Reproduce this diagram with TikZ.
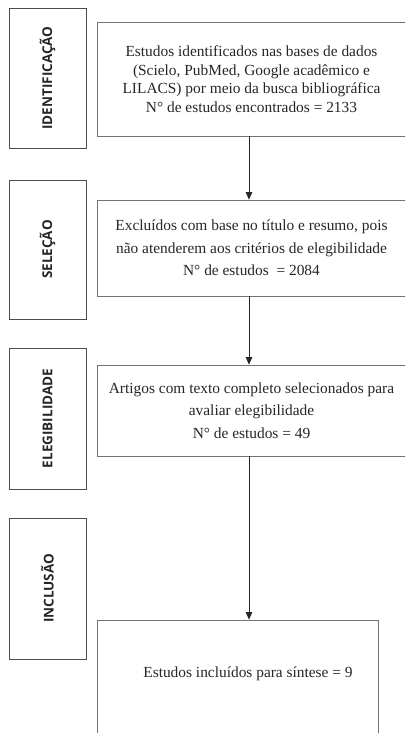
\documentclass[tikz,border=0pt]{standalone}
\usepackage{fontspec}
\setmainfont{Liberation Serif}
\newfontfamily\labelfont{Open Sans}
\usetikzlibrary{arrows.meta}

\begin{document}
\begin{tikzpicture}[x=1pt,y=-1pt,
    box/.style={draw=black!55,line width=0.8pt,inner sep=0pt,align=center,
        font=\fontsize{15.4}{18.5}\selectfont,text=black!85},
    wide/.style={font=\fontsize{15.4}{22.5}\selectfont},
    stage/.style={draw=black!70,line width=0.8pt,rotate=90,inner sep=0pt,
        minimum height=77pt,font=\labelfont\bfseries\fontsize{13.5}{15}\selectfont,text=black!85},
    flow/.style={-{Triangle[length=7.5pt,width=6.5pt]},line width=0.8pt,black!85}]
            \clip (0,0) rectangle (405,733);
            \fill[white] (0,0) rectangle (405,733);
            % stages on the left
            \node[stage,minimum width=140pt] (idt) at (47.5,78) {IDENTIFICAÇÃO};
            \node[stage,minimum width=139pt] (sel) at (47.5,249.5) {SELEÇÃO};
            \node[stage,minimum width=141pt] (ele) at (47.5,418.5) {ELEGIBILIDADE};
            \node[stage,minimum width=141pt] (inc) at (47.5,588.5) {INCLUSÃO};
            % boxes
            \node[box,minimum width=309pt,minimum height=114pt] (found) at (251.5,79)
                {Estudos identificados nas bases de dados\\(Scielo, PubMed, Google acadêmico e\\LILACS) por meio da busca bibliográfica\\N° de estudos encontrados = 2133};
            \node[box,wide,minimum width=309pt,minimum height=96pt] (excl) at (251.5,248)
                {Excluídos com base no título e resumo, pois\\não atenderem aos critérios de elegibilidade\\N° de estudos \ = 2084};
            \node[box,wide,minimum width=309pt,minimum height=91pt] (full) at (251.5,410.5)
                {Artigos com texto completo selecionados para\\avaliar elegibilidade\\N° de estudos = 49};
            \node[box,minimum width=281pt,minimum height=140pt] (synth) at (237.5,690) {};
            \node[box,draw=none] (synthtxt) at (248,674) {Estudos incluídos para síntese = 9};
            % arrows
            \draw[flow] ([xshift=-2.5pt]found.south) -- ([xshift=-2.5pt]excl.north);
            \draw[flow] ([xshift=-2.5pt]excl.south) -- ([xshift=-2.5pt]full.north);
            \draw[flow] ([xshift=-2.5pt]full.south) -- ([xshift=-2.5pt]full.south |- synth.north);
        \end{tikzpicture}
\end{document}
